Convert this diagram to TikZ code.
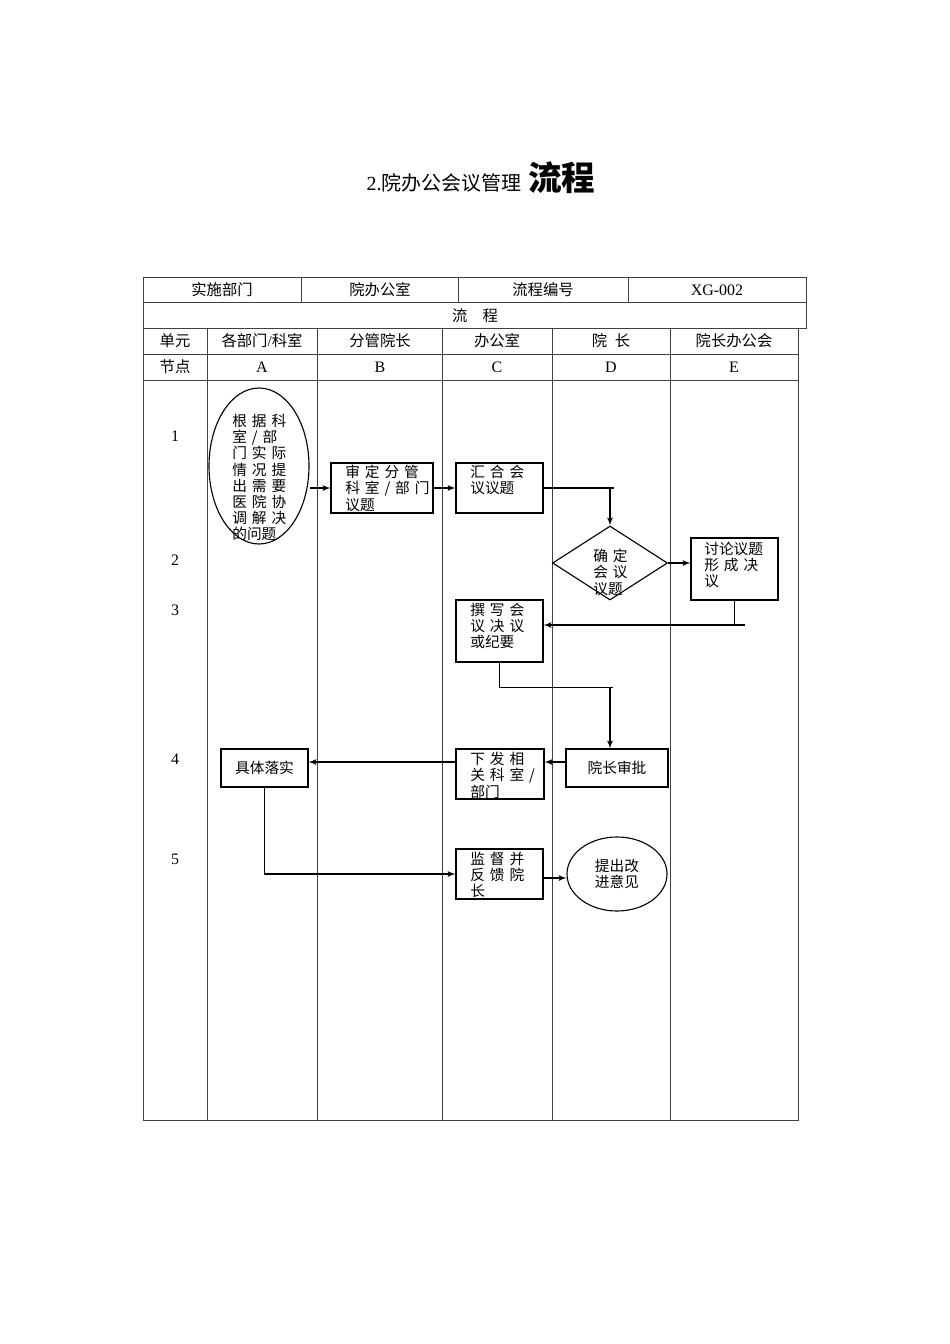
\documentclass[tikz,border=0pt]{standalone}
\usepackage{fontspec}
\setmainfont{Noto Sans CJK SC}
\newfontfamily\lat{Liberation Serif}
\usetikzlibrary{arrows, shapes.geometric, positioning}
\newcommand\spr[1]{\makebox[\hsize][s]{#1}}
\newcommand\fsz{\fontsize{9.2}{10.1}\selectfont}
\tikzset{
  Box/.style 2 args={draw, line width=0.7pt, inner sep=0pt, minimum width=#1*0.626pt, minimum height=#2*0.626pt},
  txt/.style={font=\fsz, align=left, text width=#1*0.626pt, anchor=north west, inner sep=0pt},
  head/.style={font=\fontsize{9.6}{11}\selectfont, inner sep=0pt},
  grid/.style={line width=0.5pt, draw=black!75},
  flow/.style={->, line width=0.7pt}
}

\begin{document}
\begin{tikzpicture}[x=0.626pt, y=-0.626pt, >=latex']
    \useasboundingbox (0,0) rectangle (950,1344);

    % title
    \node [font=\fontsize{12.5}{14}\selectfont, anchor=base east] (title) at (527,190) {{\lat 2.}院办公会议管理};
    \node [font=\fontsize{21}{24}\bfseries, anchor=base west, inner sep=0pt] (titlebig) at (528,190) {流程};

    % header table
    \draw [grid] (143,277) rectangle (806,328);
    \draw [grid] (143,302) -- (806,302);
    \foreach \x in {301,458,628} \draw [grid] (\x,277) -- (\x,302);
    \draw [grid] (143,328) rectangle (798,1120);
    \draw [grid] (143,354) -- (798,354);
    \draw [grid] (143,380) -- (798,380);
    \foreach \x in {207,317,442,552,670} \draw [grid] (\x,328) -- (\x,1120);

    \node [head] (h1) at (222,290) {实施部门};
    \node [head] (h2) at (380,290) {院办公室};
    \node [head] (h3) at (543,290) {流程编号};
    \node [head, font=\lat\fontsize{10}{11}\selectfont] (h4) at (717,290) {XG-002};
    \node [head] (h5) at (475,316) {流\quad 程};
    \node [head] (u0) at (175,341) {单元};
    \node [head] (u1) at (262,341) {各部门{\lat/}科室};
    \node [head] (u2) at (380,341) {分管院长};
    \node [head] (u3) at (497,341) {办公室};
    \node [head] (u4) at (611,341) {院\enspace 长};
    \node [head] (u5) at (734,341) {院长办公会};
    \node [head] (n0) at (175,367) {节点};
    \foreach \c/\x in {A/262,B/380,C/497,D/611,E/734}
        \node [head, font=\lat\fontsize{10}{11}\selectfont] (n\c) at (\x,367) {\c};

    % row numbers
    \foreach \r/\y in {1/436,2/560,3/610,4/759,5/859}
        \node [head, font=\lat\fontsize{10}{11}\selectfont] (r\r) at (175,\y) {\r};

    % shapes
    \node [draw, ellipse, line width=0.7pt, minimum width=100*0.626pt, minimum height=156*0.626pt, inner sep=0pt] (start) at (259,466) {};
    \node [txt=58] (starttxt) at (232,414) {\spr{根 据 科}\\\spr{室 / 部}\\\spr{门 实 际}\\\spr{情 况 提}\\\spr{出 需 要}\\\spr{医 院 协}\\\spr{调 解 决}\\的问题};

    \node [Box={102}{50}] (review) at (382,488) {};
    \begin{scope}
        \clip (331,463) rectangle (433,511);
        \node [txt=75] (reviewtxt) at (345,465) {\spr{审 定 分 管}\\\spr{科 室 / 部 门}\\议题};
    \end{scope}

    \node [Box={87}{50}] (collect) at (499.5,488) {};
    \node [txt=60] (collecttxt) at (470,465) {\spr{汇 合 会}\\议议题};

    \node [draw, diamond, aspect=1.55, line width=0.7pt, minimum width=115*0.626pt, minimum height=74*0.626pt, inner sep=0pt] (decide) at (610,563) {};
    \node [txt=34] (decidetxt) at (593,549) {\spr{确 定}\\\spr{会 议}\\议题};

    \node [Box={87}{62}] (discuss) at (734.5,569) {};
    \node [txt=63] (discusstxt) at (704,542) {讨论议题\\\spr{形 成 决}\\议};

    \node [Box={87}{62}] (write) at (499.5,631) {};
    \node [txt=60] (writetxt) at (470,603) {\spr{撰 写 会}\\\spr{议 决 议}\\或纪要};

    \node [Box={102}{38}, font=\fsz] (approve) at (617,768) {院长审批};

    \node [Box={88}{50}] (issue) at (500,774) {};
    \begin{scope}
        \clip (456,749) rectangle (544,797);
        \node [txt=62] (issuetxt) at (470,752) {\spr{下 发 相}\\\spr{关 科 室 /}\\部门};
    \end{scope}

    \node [Box={87}{38}, font=\fsz] (implement) at (264.5,768) {具体落实};

    \node [Box={87}{50}] (supervise) at (499.5,874) {};
    \begin{scope}
        \clip (456,849) rectangle (543,897);
        \node [txt=60] (supervisetxt) at (470,852) {\spr{监 督 并}\\\spr{反 馈 院}\\长};
    \end{scope}

    \node [draw, ellipse, line width=0.7pt, minimum width=100*0.626pt, minimum height=74*0.626pt, inner sep=0pt, font=\fsz, align=left] (improve) at (617,874) {提出改\\进意见};

    % connectors
    \coordinate (c1) at (610,488);
    \coordinate (c2) at (745,625);
    \coordinate (c3) at (610,687);
    \draw [flow] (start.east |- review.west) -- (review.west);
    \draw [flow] (review) -- (collect);
    \draw [line width=0.7pt] (collect.east) -- ++(70,0);
    \draw [flow] (c1) -- (decide.north);
    \draw [flow] (decide.east) -- (discuss.west |- decide.east);
    \draw [line width=0.7pt] (discuss.south) -- (discuss.south |- c2);
    \draw [flow] (c2) -- (write.east |- c2);
    \draw [line width=0.7pt] (write.south) |- ++(113,25);
    \draw [flow] (c3) -- (c3 |- approve.north);
    \draw [flow] (approve.west |- 566,762) -- (issue.east |- 566,762);
    \draw [flow] (issue.west |- 456,762) -- (implement.east |- 456,762);
    \draw [flow] (implement.south) |- (supervise.west);
    \draw [flow] (supervise.east |- 543,878) -- (improve.west |- 543,878);
\end{tikzpicture}
\end{document}
